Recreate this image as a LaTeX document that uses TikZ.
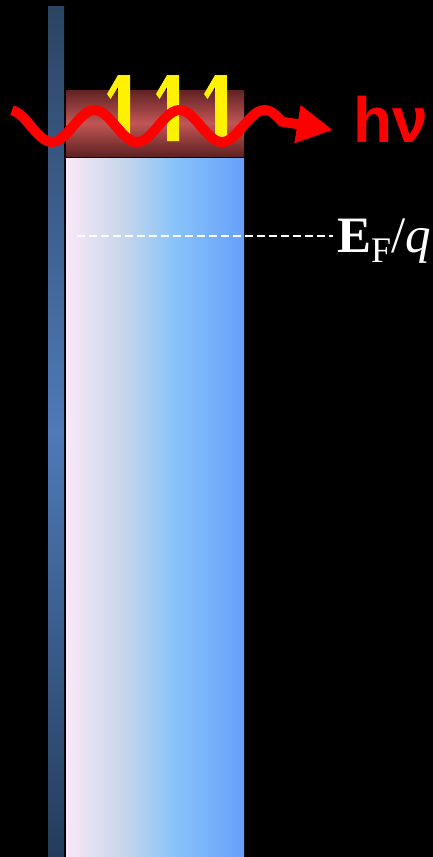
\documentclass[tikz,border=0pt]{standalone}
\usepackage{fontspec}
\newfontfamily\arialfont{Liberation Sans}
\newfontfamily\timesfont{Liberation Serif}
\usetikzlibrary{positioning, arrows.meta, calc}

\definecolor{barTop}{RGB}{44,68,98}
\definecolor{barMid}{RGB}{79,122,184}
\definecolor{barBot}{RGB}{36,60,90}
\definecolor{capEdge}{RGB}{96,34,34}
\definecolor{capMid}{RGB}{194,86,86}
\definecolor{bodyA}{RGB}{250,232,248}
\definecolor{bodyB}{RGB}{195,213,235}
\definecolor{bodyC}{RGB}{138,196,250}
\definecolor{bodyD}{RGB}{102,160,250}
\pgfdeclarehorizontalshading{bodyshade}{100bp}{color(0bp)=(bodyA); color(25bp)=(bodyA);
  color(42bp)=(bodyB); color(55bp)=(bodyC); color(75bp)=(bodyD); color(100bp)=(bodyD)}

\begin{document}
\begin{tikzpicture}[x=1pt, y=-1pt,
  slab/.style={inner sep=0pt, outer sep=0pt, anchor=north west},
  label/.style={inner sep=0pt, anchor=base west},
  photon/.style={red, line width=10pt, -{Triangle[length=36pt, width=36pt]}},
  fermiline/.style={white, line width=1.6pt, dash pattern=on 8pt off 4pt}]
  \fill[black] (0,0) rectangle (433,857);
  \useasboundingbox (0,0) rectangle (433,857);
  % layers
  \node[slab, minimum width=16pt, minimum height=851pt,
        top color=barTop, bottom color=barBot, middle color=barMid] (contact) at (48,6) {};
  \node[slab, minimum width=178pt, minimum height=66pt,
        top color=capEdge, bottom color=capEdge, middle color=capMid] (cap) at (66,90) {};
  \node[slab, minimum width=178pt, minimum height=699pt, shade, shading=bodyshade,
        below=2pt of cap.south west, anchor=north west] (body) {};
  % half arrows
  \foreach \sx/\sy in {118/135, 167/141, 215/137}
    \fill[yellow] (\sx,75) -- ++(12,0) -- (\sx+12,\sy) -- (\sx,\sy) -- (\sx,87)
      -- (\sx-7.5,99) -- (\sx-11,94) -- cycle;
  % labels
  \node[label, text=red, font=\arialfont\bfseries\fontsize{64}{64}\selectfont]
        (hv) at (353,142) {hν};
  \node[label, text=white, font=\timesfont\fontsize{51}{51}\selectfont] (ef) at (337,252)
        {\textbf{E}\raisebox{-10pt}{\fontsize{36}{36}\selectfont F}/\textit{q}};
  \coordinate (fermi) at (77,236);
  \coordinate (tip) at (333,130);
  \draw[fermiline, shorten >=4pt] (fermi) -- (fermi -| ef.west);
  \draw[photon] plot[domain=12:282, samples=80] (\x, {126+16*cos(4.2353*(\x-52))}) -- (tip);
\end{tikzpicture}
\end{document}
